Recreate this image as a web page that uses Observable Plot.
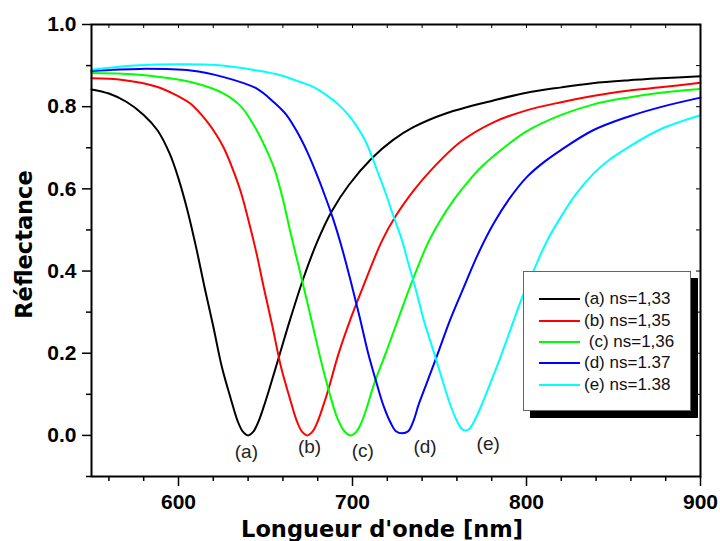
<!DOCTYPE html>
<html><head><meta charset="utf-8">
<script src="https://cdn.jsdelivr.net/npm/d3@7"></script>
<script src="https://cdn.jsdelivr.net/npm/@observablehq/plot@0.6"></script>
<style>
html,body{margin:0;padding:0;background:#fff;}
#wrap{position:relative;width:720px;height:541px;font-family:Arial,"Liberation Sans",sans-serif;}
#legend{position:absolute;left:523px;top:271px;width:168px;height:140px;box-sizing:border-box;border:1px solid #666;background:#fff;box-shadow:7px 7px 0 #000;}
.row{position:absolute;left:0;height:20px;display:flex;align-items:center;font-size:17px;white-space:pre;color:#111;line-height:20px;}
.row .sw{width:41px;height:2px;margin-left:15px;margin-right:4px;}
</style></head><body><div id="wrap"></div>
<script>
// ---- data ----
const seriesNames = ["(a) ns=1,33", "(b) ns=1,35", " (c) ns=1,36", "(d) ns=1.37", "(e) ns=1.38"];
const seriesColors = ["#000000", "#ff0000", "#00ff00", "#0000ff", "#00ffff"];

const wlA = [550,560,570,580,588,595,600,605,610,615,620,625,630,634,637,640,643,646,649,652,658,664,672,680,688,698,711,723,735,754,781,800,820,838,858,877,900];
const rA  = [.842,.832,.812,.78,.742,.685,.625,.55,.46,.36,.265,.165,.09,.035,.009,0,.009,.034,.07,.11,.195,.28,.385,.474,.545,.61,.674,.718,.75,.784,.815,.834,.847,.857,.864,.869,.874];

const wlB = [550,568,588,600,607,616,622,626,631,636,641,645,649,654,659,664,668,671,674,677,680,683,686,692,699,706,717,725,735,745,762,781,800,820,838,858,877,900];
const rB  = [.869,.865,.848,.825,.807,.766,.73,.70,.65,.59,.51,.44,.36,.265,.165,.09,.035,.009,0,.009,.034,.07,.11,.199,.285,.361,.474,.535,.595,.645,.714,.762,.791,.811,.826,.839,.847,.858];

const wlC = [550,568,588,607,626,636,645,650,655,660,664,668,672,677,682,687,691,695,699,702,705,708,712,719,726,733,743,750,758,766,774,787,800,820,838,858,877,900];
const rC  = [.882,.880,.873,.86,.832,.80,.742,.70,.65,.575,.50,.43,.36,.27,.18,.10,.045,.012,0,.008,.03,.065,.12,.199,.28,.361,.465,.52,.572,.615,.653,.70,.74,.78,.805,.822,.834,.843];

const wlD = [550,578,607,626,645,655,662,668,674,679,684,689,694,699,704,709,714,718,722,725,728.5,732,735,738,742,749,756,764,772,781,790,800,810,820,838,858,877,900];
const rD  = [.887,.892,.888,.872,.844,.81,.78,.74,.69,.64,.585,.525,.455,.375,.29,.20,.125,.07,.03,.01,.005,.01,.035,.075,.12,.199,.28,.361,.44,.515,.575,.628,.665,.695,.742,.775,.799,.822];

const wlE = [550,575,603,625,645,659,670,678,686,692,697,702,707,711,715,719,723,728.5,732,736,741,747,752,756,760,763,765,767,770,774.5,779,785,791,797,806,812,819.5,828,838.5,848,858,877,900];
const rE  = [.89,.90,.903,.90,.888,.876,.86,.847,.825,.805,.783,.755,.72,.68,.635,.59,.54,.474,.42,.361,.28,.199,.13,.077,.035,.015,.012,.015,.035,.077,.125,.19,.26,.33,.42,.475,.53,.585,.637,.672,.70,.745,.779];

const curveLabels = ["(a)", "(b)", "(c)", "(d)", "(e)"];
const curveLabelX = [639, 675.3, 705.9, 741.7, 778];
const curveLabelY = [-0.04, -0.029, -0.037, -0.029, -0.020];

const xMajor = [600, 700, 800, 900];
const xMinor = [560, 580, 620, 640, 660, 680, 720, 740, 760, 780, 820, 840, 860, 880];
const yMajor = [0, 0.2, 0.4, 0.6, 0.8, 1.0];
const yMinor = [-0.1, 0.1, 0.3, 0.5, 0.7, 0.9];
const xTitle = "Longueur d'onde [nm]";
const yTitle = "Réflectance";

// ---- build ----
const wls = [wlA, wlB, wlC, wlD, wlE];
const rs = [rA, rB, rC, rD, rE];
const W = 720, H = 541, mL = 91, mR = 20, mT = 24, mB = 65;
const innerW = W - mL - mR, innerH = H - mT - mB;
const titleFont = "'DejaVu Sans', Verdana, sans-serif";

const lineMarks = wls.map((wl, k) =>
  Plot.line(wl.map((w, i) => ({x: w, y: rs[k][i]})), {x: "x", y: "y", stroke: seriesColors[k], strokeWidth: 2, curve: "catmull-rom"})
);
const labelData = curveLabels.map((t, i) => ({t, x: curveLabelX[i], y: curveLabelY[i]}));
const allX = [...xMajor, ...xMinor].sort((a, b) => a - b);
const allY = [...yMajor, ...yMinor].sort((a, b) => a - b);

const chart = Plot.plot({
  width: W, height: H,
  marginLeft: mL, marginRight: mR, marginTop: mT, marginBottom: mB,
  x: {domain: [550, 900]},
  y: {domain: [-0.1, 1.0]},
  style: {fontFamily: "Arial, 'Liberation Sans', sans-serif", background: "white", color: "black", overflow: "visible"},
  marks: [
    ...lineMarks,
    Plot.text(labelData, {x: "x", y: "y", text: "t", fontSize: 19, fill: "#222"}),
    Plot.axisY({ticks: yMajor, tickSize: 9, tickPadding: 6, tickFormat: d3.format(".1f"), fontSize: 21, fontWeight: "bold", strokeWidth: 1.5, label: null}),
    Plot.axisY({ticks: yMinor, tickSize: 5, tickFormat: () => "", strokeWidth: 1.5, label: null}),
    Plot.tickY(allY, {y: d => d, insetLeft: innerW - 4, stroke: "black"}),
    Plot.tickX(allX, {x: d => d, insetBottom: innerH - 4, stroke: "black"}),
    Plot.axisX({ticks: xMajor, tickSize: 10, tickPadding: 8, fontSize: 21, fontWeight: "bold", strokeWidth: 1.5, label: null}),
    Plot.axisX({ticks: xMinor, tickSize: 5, tickFormat: () => "", strokeWidth: 1.5, label: null}),
    Plot.frame({stroke: "black", strokeWidth: 2}),
    Plot.text([xTitle], {frameAnchor: "bottom", textAnchor: "middle", lineAnchor: "middle", dx: -14, dy: 53, fontSize: 22.5, fontWeight: "bold", fontFamily: titleFont}),
    Plot.text([yTitle], {frameAnchor: "left", textAnchor: "middle", lineAnchor: "middle", rotate: -90, dx: -67, dy: -6, fontSize: 22.5, fontWeight: "bold", fontFamily: titleFont})
  ]
});

const wrap = document.getElementById("wrap");
wrap.appendChild(chart);
const legend = document.createElement("div");
legend.id = "legend";
const rowTops = [17, 39, 60, 81, 103];
seriesNames.forEach((name, i) => {
  const row = document.createElement("div");
  row.className = "row";
  row.style.top = rowTops[i] + "px";
  const sw = document.createElement("div");
  sw.className = "sw";
  sw.style.background = seriesColors[i];
  const tx = document.createElement("span");
  tx.textContent = name;
  row.appendChild(sw);
  row.appendChild(tx);
  legend.appendChild(row);
});
wrap.appendChild(legend);
</script></body></html>
